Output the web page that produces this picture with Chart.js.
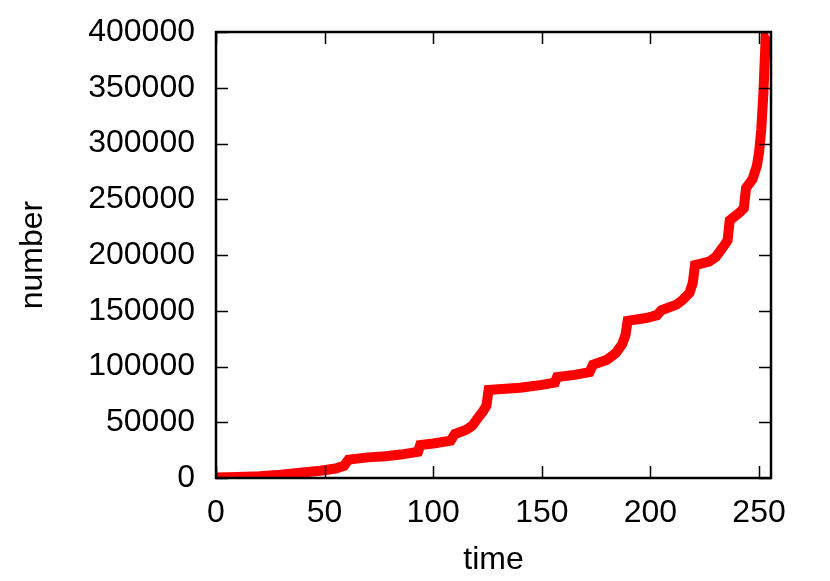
<!DOCTYPE html>
<html>
<head>
<meta charset="utf-8">
<script src="https://cdn.jsdelivr.net/npm/chart.js@4/dist/chart.umd.min.js"></script>
<style>
  body { margin: 0; background: #fff; }
  #wrap { width: 830px; height: 581px; }
</style>
</head>
<body>
<div id="wrap"><canvas id="grafico"></canvas></div>
<script>
// valores
const tempos = [0, 10, 20, 30, 40, 48, 55, 59, 61, 70, 78, 85, 90, 93, 94, 100, 108, 110, 115, 118, 121, 123, 124.5, 125.5,
  130, 140, 150, 156, 157, 165, 172, 173.5, 180, 184, 187, 188.5, 189.5, 198, 203, 205, 212, 215, 218, 219.5, 220.5,
  227, 230, 233, 235.5, 236.5, 241, 243, 244, 247, 249, 250, 251, 252, 253, 255.5];
const numeros = [500, 1000, 1500, 3000, 5000, 6500, 8500, 11000, 16500, 18500, 19500, 21000, 22500, 23500, 29500, 31000, 33500, 39500, 43000, 47000, 55000, 60000, 65000, 79000,
  79500, 81000, 83500, 85500, 90500, 92500, 95000, 101500, 106000, 112000, 120000, 128000, 141000, 143500, 146000, 150500, 155500, 160000, 166000, 175000, 191000,
  194000, 198000, 206000, 213000, 231000, 238000, 242000, 260000, 268000, 280000, 292000, 312000, 345000, 393000, 384000];
const ticksX = [0, 50, 100, 150, 200, 250];
const ticksY = [0, 50000, 100000, 150000, 200000, 250000, 300000, 350000, 400000];

const fonte = { family: '"Liberation Sans", Arial, sans-serif', size: 32 };

// moldura e marcas para dentro, como no gnuplot
const moldura = {
  id: 'moldura',
  afterDatasetsDraw(chart) {
    const { ctx, chartArea: a, scales } = chart;
    ctx.save();
    ctx.strokeStyle = '#000';
    ctx.lineWidth = 1.5;
    const tam = 12;
    ctx.beginPath();
    ticksX.forEach(v => {
      const px = Math.round(scales.x.getPixelForValue(v)) + 0.5;
      ctx.moveTo(px, a.bottom); ctx.lineTo(px, a.bottom - tam);
      ctx.moveTo(px, a.top); ctx.lineTo(px, a.top + tam);
    });
    ticksY.forEach(v => {
      const py = Math.round(scales.y.getPixelForValue(v)) + 0.5;
      ctx.moveTo(a.left, py); ctx.lineTo(a.left + tam, py);
      ctx.moveTo(a.right, py); ctx.lineTo(a.right - tam, py);
    });
    ctx.stroke();
    ctx.lineWidth = 2.5;
    ctx.strokeRect(a.left, a.top, a.right - a.left, a.bottom - a.top);
    ctx.restore();
  }
};

new Chart(document.getElementById('grafico'), {
  type: 'scatter',
  data: {
    datasets: [{
      data: tempos.map((t, i) => ({ x: t, y: numeros[i] })),
      showLine: true,
      borderColor: '#ff0000',
      backgroundColor: '#ff0000',
      borderWidth: 10,
      pointRadius: 0,
      tension: 0
    }]
  },
  options: {
    responsive: true,
    maintainAspectRatio: false,
    animation: false,
    layout: { padding: { top: 32, right: 59, left: 0, bottom: 0 } },
    plugins: { legend: { display: false }, tooltip: { enabled: false } },
    scales: {
      x: {
        type: 'linear',
        min: 0,
        max: 255.5,
        grid: { display: false },
        border: { display: false },
        afterBuildTicks: s => { s.ticks = ticksX.map(v => ({ value: v })); },
        afterFit: s => { s.height = 103; s.paddingLeft = 0; s.paddingRight = 0; },
        ticks: { color: '#000', font: fonte, padding: 8, maxRotation: 0 },
        title: { display: true, text: 'time', color: '#000', font: fonte, padding: { top: 0, bottom: 2 } }
      },
      y: {
        min: 0,
        max: 400000,
        grid: { display: false },
        border: { display: false },
        afterBuildTicks: s => { s.ticks = ticksY.map(v => ({ value: v })); },
        afterFit: s => { s.width = 216; s.paddingTop = 0; s.paddingBottom = 0; },
        ticks: { color: '#000', font: fonte, padding: 13, callback: v => String(v) },
        title: { display: true, text: 'number', color: '#000', font: fonte, padding: { top: 14, bottom: 0 } }
      }
    }
  },
  plugins: [moldura]
});
</script>
</body>
</html>
